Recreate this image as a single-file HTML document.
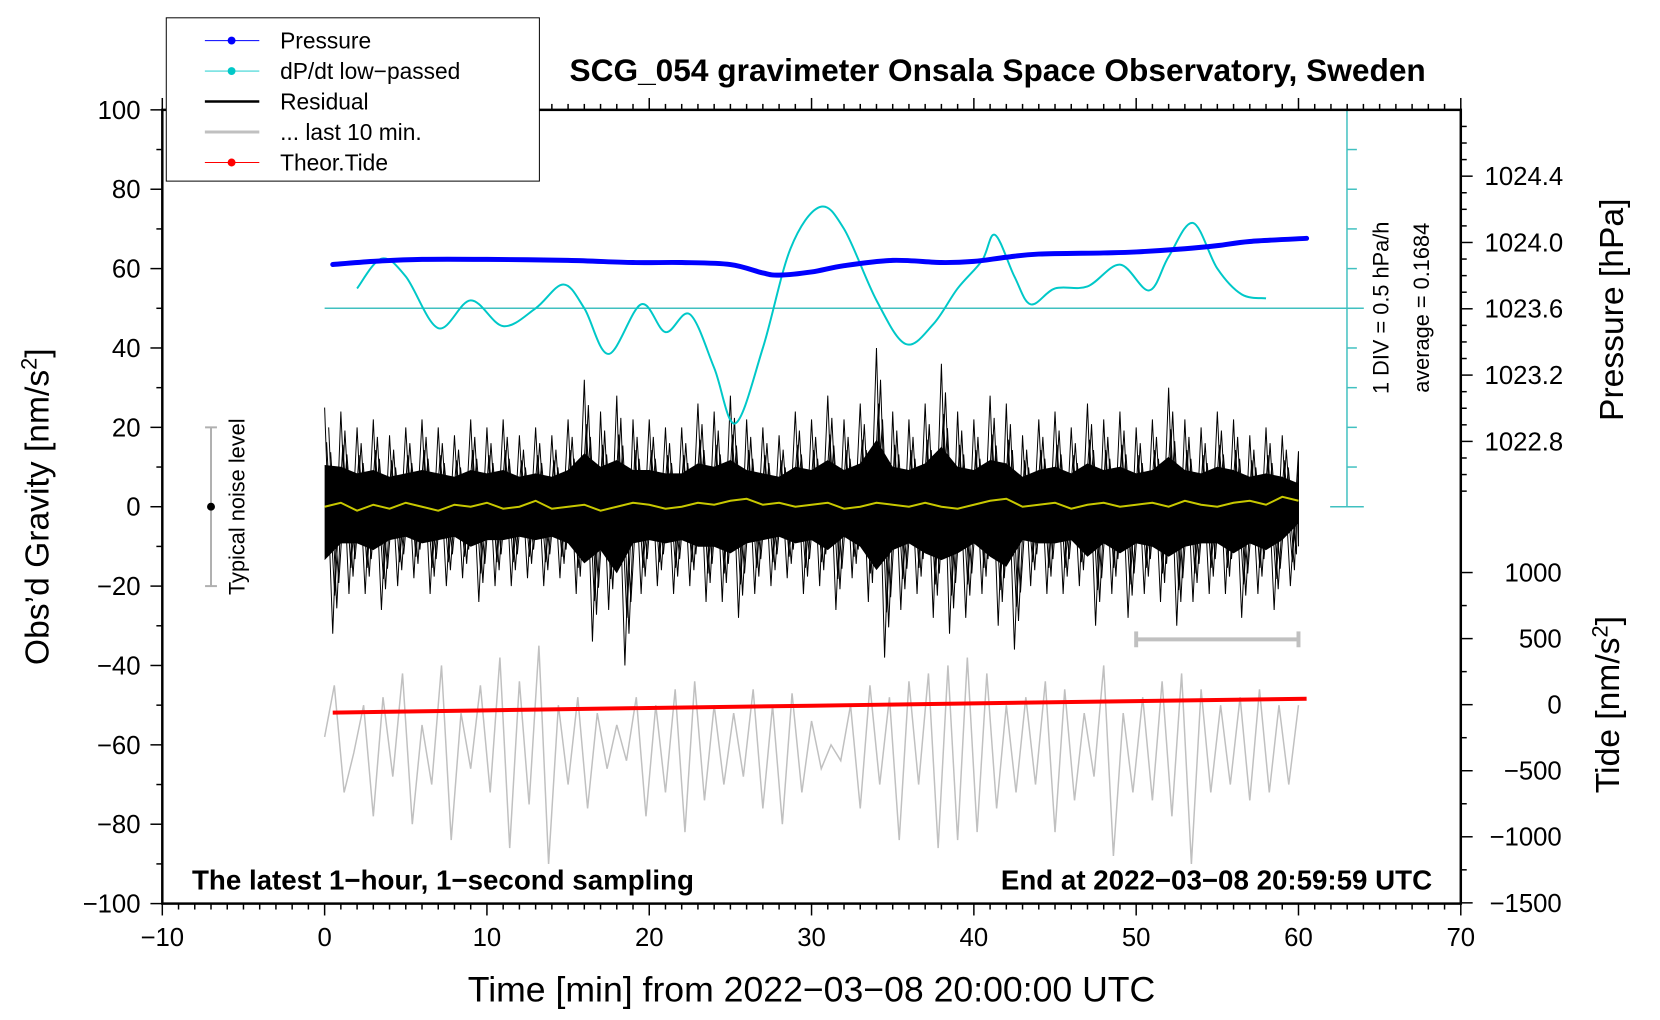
<!DOCTYPE html>
<html><head><meta charset="utf-8"><style>
html,body{margin:0;padding:0;background:#fff}
svg{display:block;font-family:"Liberation Sans",Arial,sans-serif}
</style></head><body>
<svg id="chart" width="1660" height="1020" viewBox="0 0 1660 1020" xmlns="http://www.w3.org/2000/svg">
<rect width="1660" height="1020" fill="#fff"/>
<g transform="scale(0.9897)">
<g id="marks"></g>
<g id="axes"></g>
</g>
</svg>
<script>
const pressT=[0.5,3,6,10,15,19,22,25,27,28,30,32,35,38,40,42,44,48,50,53,55,57,60.5];
const pressV=[1023.867,1023.886,1023.898,1023.898,1023.892,1023.879,1023.879,1023.867,1023.816,1023.803,1023.822,1023.860,1023.892,1023.879,1023.886,1023.911,1023.930,1023.937,1023.943,1023.962,1023.981,1024.006,1024.025];
const dpdtT=[2,3.5,5,7,9,11,13,14.7,16,17.5,19.5,21,22.5,24,25.3,27,28.7,30.5,32,34,35.8,37.5,39,40.5,41.3,42.5,43.5,45,47,49,50.8,52,53.5,55,56.5,58];
const dpdtV=[0.4184,0.7934,0.5684,-0.0816,0.2684,-0.0566,0.1684,0.4684,0.1684,-0.4066,0.2184,-0.1316,0.0934,-0.5816,-1.2816,-0.3316,0.9184,1.4434,1.1684,0.2684,-0.2816,-0.0316,0.4184,0.7684,1.0934,0.5684,0.2184,0.4184,0.4434,0.7184,0.3934,0.8184,1.2434,0.6684,0.3434,0.2934];
const dpdtAvg=0.1684;
const resHi=[25,24,20,22,18,20,22,20,18,22,20,22,18,20,18,22,32,24,28,22,22,20,20,26,24,28,22,20,18,24,22,28,22,26,40,24,22,26,36,24,22,28,26,18,22,24,20,26,22,24,20,22,30,22,20,24,22,18,20,18,14];
const resLo=[-32,-22,-22,-26,-20,-18,-22,-20,-18,-24,-20,-20,-18,-20,-18,-22,-34,-26,-40,-22,-20,-22,-20,-24,-24,-28,-22,-20,-18,-22,-20,-26,-18,-24,-38,-26,-22,-28,-32,-28,-22,-30,-36,-20,-22,-22,-20,-30,-22,-28,-22,-24,-30,-24,-22,-22,-28,-22,-26,-20,-10];
const yellowV=[0,1,-1,0.5,-0.5,1,0,-1,0.5,0,1,-0.5,0,1.5,-0.5,0,0.5,-1,0,1,0.5,-0.5,0,1,0.5,1.5,2,0.5,1,0,0.5,1,-0.5,0,1,0.5,0,1,0,-0.5,0.5,1.5,2,0,0.5,1,-0.5,0.5,1,0,0.5,1,0,1.5,0.5,0,1,1.5,0.5,2.5,1.5];
const gray=[-58,-45,-72,-62,-50,-78,-48,-68,-42,-80,-55,-70,-40,-84,-52,-66,-45,-72,-38,-86,-44,-75,-35,-90,-50,-70,-48,-76,-52,-66,-55,-64,-48,-78,-50,-72,-46,-82,-44,-74,-50,-70,-52,-68,-46,-76,-50,-80,-47,-72,-54,-66,-60,-64,-50,-76,-45,-70,-48,-84,-44,-70,-42,-86,-40,-84,-38,-82,-42,-76,-50,-72,-48,-70,-44,-82,-46,-74,-52,-68,-40,-88,-52,-72,-48,-74,-44,-78,-42,-90,-46,-72,-50,-70,-48,-74,-46,-72,-50,-70,-50];
const tideT=[0.5,10,20,30,40,50,60.5];
const tideV=[-60,-43,-25,-8,10,27,45];
const xTicks=[-10,0,10,20,30,40,50,60,70];
const yTicks=[100,80,60,40,20,0,-20,-40,-60,-80,-100];
const pTicks=["1024.4","1024.0","1023.6","1023.2","1022.8"];
const tTicks=[1000,500,0,-500,-1000,-1500];

const NS="http://www.w3.org/2000/svg";
const X=t=>164+(t+10)*16.4;
const Yg=g=>512-g*4.01;
const Yp=p=>245-(p-1024)*167.5;
const Yt=v=>712-v*0.1335;
const Yd=v=>Yg(50+(v-dpdtAvg)/0.05);
const marks=document.getElementById('marks');
const axes=document.getElementById('axes');
function el(tag,attrs,parent,text){const e=document.createElementNS(NS,tag);for(const k in attrs)e.setAttribute(k,attrs[k]);if(text!==undefined)e.textContent=text;(parent||marks).appendChild(e);return e;}
function smooth(pts){let d=`M${pts[0][0]},${pts[0][1]}`;for(let i=0;i<pts.length-1;i++){const p0=pts[Math.max(0,i-1)],p1=pts[i],p2=pts[i+1],p3=pts[Math.min(pts.length-1,i+2)];d+=` C${p1[0]+(p2[0]-p0[0])/6},${p1[1]+(p2[1]-p0[1])/6} ${p2[0]-(p3[0]-p1[0])/6},${p2[1]-(p3[1]-p1[1])/6} ${p2[0]},${p2[1]}`;}return d;}

// gray last 10 min
let gp=gray.map((v,i)=>`${X(i*0.6).toFixed(1)},${Yg(v).toFixed(1)}`).join(' ');
let e=el('polyline',{points:gp,fill:'none',stroke:'#c0c0c0','stroke-width':1.5});



// residual
let core=[];resHi.forEach((v,i)=>core.push(`${X(i)},${Yg(v*0.42)}`));for(let i=resLo.length-1;i>=0;i--)core.push(`${X(i)},${Yg(resLo[i]*0.42)}`);
e=el('polygon',{points:core.join(' '),fill:'#000'});


const fr=[[0,0.5,1,1],[0.25,0.75,0.8,0.8],[0.12,0.62,0.65,0.7],[0.37,0.87,0.55,0.6]];
fr.forEach((f,k)=>{let pts=[];resHi.forEach((v,i)=>{const a=Math.min(60,i+f[0]),b=Math.min(60,i+f[1]);pts.push(`${X(a).toFixed(1)},${Yg(v*f[2]).toFixed(1)}`);pts.push(`${X(b).toFixed(1)},${Yg(resLo[i]*f[3]).toFixed(1)}`);});
const l=el('polyline',{points:pts.join(' '),fill:'none',stroke:'#000','stroke-width':1});

});
// yellow
e=el('polyline',{points:yellowV.map((v,i)=>`${X(i)},${Yg(v)}`).join(' '),fill:'none',stroke:'#c8c800','stroke-width':2});


// tide
e=el('polyline',{points:tideT.map((t,i)=>`${X(t)},${Yt(tideV[i])}`).join(' '),fill:'none',stroke:'#ff0000','stroke-width':4});


// dpdt zero line & curve
e=el('line',{x1:X(0),x2:1378,y1:Yd(dpdtAvg),y2:Yd(dpdtAvg),stroke:'#40c0c0','stroke-width':1.5});


e=el('path',{d:smooth(dpdtT.map((t,i)=>[X(t),Yd(dpdtV[i])])),fill:'none',stroke:'#00c8c8','stroke-width':2});


// pressure
e=el('path',{d:smooth(pressT.map((t,i)=>[X(t),Yp(pressV[i])])),fill:'none',stroke:'#0000ff','stroke-width':5,'stroke-linecap':'round'});



// cyan scale bar
e=el('g',{stroke:'#40c0c0','stroke-width':1.5},axes);


el('line',{x1:1361,x2:1361,y1:111,y2:512},e);
el('line',{x1:1344,x2:1378,y1:512,y2:512},e);
el('line',{x1:1344,x2:1378,y1:111,y2:111},e);
for(let k=1;k<10;k++)el('line',{x1:1361,x2:1371,y1:512-k*40.1,y2:512-k*40.1},e);
// gray scale bar
e=el('g',{stroke:'#c0c0c0','stroke-width':4},axes);


el('line',{x1:X(50),x2:X(60),y1:646,y2:646},e);el('line',{x1:X(50),x2:X(50),y1:638,y2:654},e);el('line',{x1:X(60),x2:X(60),y1:638,y2:654},e);
// noise bar
e=el('g',{stroke:'#b0b0b0','stroke-width':2},axes);


el('line',{x1:X(-7),x2:X(-7),y1:Yg(20),y2:Yg(-20)},e);el('line',{x1:X(-7)-6,x2:X(-7)+6,y1:Yg(20),y2:Yg(20)},e);el('line',{x1:X(-7)-6,x2:X(-7)+6,y1:Yg(-20),y2:Yg(-20)},e);
el('circle',{cx:X(-7),cy:Yg(0),r:4,fill:'#000',stroke:'none'},e);

// frame
e=el('rect',{x:164,y:111,width:1312,height:802,fill:'none',stroke:'#000','stroke-width':2.5},axes);


const tk=el('g',{stroke:'#000','stroke-width':1.5},axes);
for(let t=-10;t<=70;t++){const maj=t%10===0;el('line',{x1:X(t),x2:X(t),y1:913,y2:913+(maj?12:6)},tk);el('line',{x1:X(t),x2:X(t),y1:111,y2:111-(maj?12:6)},tk);}
for(let g=-100;g<=100;g+=10){const maj=g%20===0;el('line',{x1:164,x2:164-(maj?12:6),y1:Yg(g),y2:Yg(g)},tk);}
for(let p=1022.4;p<=1024.7;p+=0.1){const y=Yp(p);if(y<111||y>513)continue;const maj=Math.abs(Math.round(p*10)%4)===0;el('line',{x1:1476,x2:1476+(maj?12:6),y1:y,y2:y},tk);}
for(let v=-1500;v<=1100;v+=250){const y=Yt(v);if(y>913||y<560)continue;const maj=v%500===0;el('line',{x1:1476,x2:1476+(maj?12:6),y1:y,y2:y},tk);}
const T=(x,y,s,txt,opt={})=>{const a=Object.assign({x:x,y:y,'font-size':s,fill:'#000'},opt);return el('text',a,axes,txt);};
xTicks.forEach(t=>{const l=T(X(t),956,26,String(t).replace('-','\u2212'),{'text-anchor':'middle'});});
yTicks.forEach(g=>{const l=T(142,Yg(g)+9,26,String(g).replace('-','\u2212'),{'text-anchor':'end'});});
pTicks.forEach(p=>{const l=T(1500,Yp(+p)+9,26,p);});
tTicks.forEach(v=>{const l=T(1578,Yt(v)+9,26,String(v).replace('-','\u2212'),{'text-anchor':'end'});});
let t=T(820,1012,36,'Time [min] from 2022\u221203\u221208 20:00:00 UTC',{'text-anchor':'middle'});
t=T(0,0,34,'',{'text-anchor':'middle',transform:'translate(49,512) rotate(-90)'});t.innerHTML='Obs\u2019d Gravity [nm/s<tspan dy="-12" font-size="22">2</tspan><tspan dy="12">]</tspan>';
t=T(0,0,34,'Pressure [hPa]',{'text-anchor':'middle',transform:'translate(1640,313) rotate(-90)'});
t=T(0,0,34,'',{'text-anchor':'middle',transform:'translate(1636,712) rotate(-90)'});t.innerHTML='Tide [nm/s<tspan dy="-12" font-size="22">2</tspan><tspan dy="12">]</tspan>';
t=T(1008,82,32,'SCG_054 gravimeter Onsala Space Observatory, Sweden',{'text-anchor':'middle','font-weight':'bold'});
t=T(194,899,28,'The latest 1\u2212hour, 1\u2212second sampling',{'font-weight':'bold'});
t=T(1447,899,28,'End at 2022\u221203\u221208 20:59:59 UTC',{'font-weight':'bold','text-anchor':'end'});
t=T(0,0,22,'1 DIV = 0.5 hPa/h',{'text-anchor':'middle',transform:'translate(1403,311) rotate(-90)'});
t=T(0,0,22,'average = 0.1684',{'text-anchor':'middle',transform:'translate(1444,311) rotate(-90)'});
t=T(0,0,22,'Typical noise level',{'text-anchor':'middle',transform:'translate(247,512) rotate(-90)'});

// legend
const lg=el('g',{},axes);


el('rect',{x:168,y:18,width:377,height:165,fill:'#fff',stroke:'#000','stroke-width':1},lg);
const legNames=['Pressure','dP/dt low\u2212passed','Residual','... last 10 min.','Theor.Tide'];
const legCols=['#0000ff','#00c8c8','#000','#c0c0c0','#ff0000'];
const legW=[1,1,2.5,3,1];
const legDot=[true,true,false,false,true];
legNames.forEach((n,i)=>{const y=41+i*30.8;const g=el('g',{},lg);


el('line',{x1:207,x2:262,y1:y,y2:y,stroke:legCols[i],'stroke-width':legW[i]},g);
if(legDot[i])el('circle',{cx:234,cy:y,r:4,fill:legCols[i]},g);
el('text',{x:283,y:y+8,'font-size':23,fill:'#000'},g,n);});
</script>
</body></html>
